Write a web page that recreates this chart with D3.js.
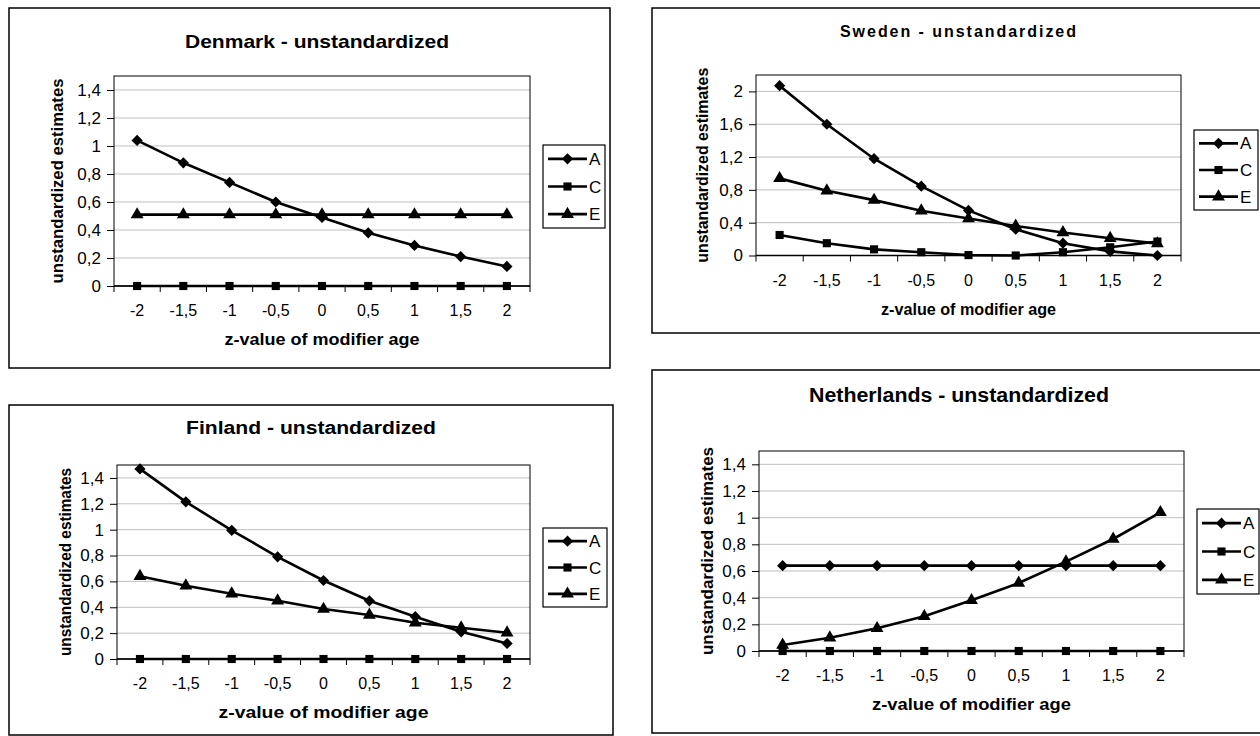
<!DOCTYPE html>
<html>
<head>
<meta charset="utf-8">
<script src="https://cdn.jsdelivr.net/npm/d3@7"></script>
<style>
  body { margin: 0; background: #fff; }
  svg { display: block; }
  text { font-family: "Liberation Sans", Arial, sans-serif; fill: #000; }
</style>
</head>
<body>
<div class="canvas"></div>
<script>
// z-values of the modifier (category axis)
const zValues = ["-2", "-1,5", "-1", "-0,5", "0", "0,5", "1", "1,5", "2"]
const seriesNames = ["A", "C", "E"]

const denmarkA = [1.04, 0.88, 0.74, 0.60, 0.49, 0.38, 0.29, 0.21, 0.14]
const denmarkC = [0, 0, 0, 0, 0, 0, 0, 0, 0]
const denmarkE = [0.51, 0.51, 0.51, 0.51, 0.51, 0.51, 0.51, 0.51, 0.51]

const swedenA = [2.07, 1.60, 1.18, 0.845, 0.55, 0.32, 0.15, 0.05, 0.0]
const swedenC = [0.25, 0.15, 0.075, 0.04, 0.005, 0.0, 0.04, 0.10, 0.17]
const swedenE = [0.94, 0.79, 0.675, 0.545, 0.45, 0.36, 0.28, 0.21, 0.145]

const finlandA = [1.47, 1.215, 0.995, 0.79, 0.607, 0.45, 0.327, 0.21, 0.12]
const finlandC = [0, 0, 0, 0, 0, 0, 0, 0, 0]
const finlandE = [0.64, 0.566, 0.505, 0.45, 0.386, 0.34, 0.28, 0.242, 0.203]

const netherlandsA = [0.64, 0.64, 0.64, 0.64, 0.64, 0.64, 0.64, 0.64, 0.64]
const netherlandsC = [0, 0, 0, 0, 0, 0, 0, 0, 0]
const netherlandsE = [0.045, 0.10, 0.17, 0.26, 0.38, 0.51, 0.67, 0.84, 1.04]

const ticksSmall = [0, 0.2, 0.4, 0.6, 0.8, 1, 1.2, 1.4]
const ticksSweden = [0, 0.4, 0.8, 1.2, 1.6, 2]

const comma = d => String(d).replace(".", ",")

const svg = d3.select(".canvas")
  .append("svg")
    .attr("width", 1260)
    .attr("height", 736)

// layout of each chart box
const panels = [
  { title: "Denmark - unstandardized", series: [denmarkA, denmarkC, denmarkE], yMax: 1.5, ticks: ticksSmall,
    box: [9, 8, 610, 368], plot: [114, 76, 530, 286],
    titleX: 317, titleY: 48, titleSize: 19, titleW: 264, titleAdjust: "spacingAndGlyphs",
    xTitleW: 195, yTitleX: 63, yTitleW: 205, legend: [543, 145, 62, 83] },
  { title: "Sweden - unstandardized", series: [swedenA, swedenC, swedenE], yMax: 2.2, ticks: ticksSweden,
    box: [652, 8, 1262, 333], plot: [756, 75, 1181, 255.5],
    titleX: 958, titleY: 37, titleSize: 16, titleW: 236, titleAdjust: "spacing",
    xTitleW: 175, yTitleX: 708, yTitleW: 195, legend: [1194, 130, 64, 80] },
  { title: "Finland - unstandardized", series: [finlandA, finlandC, finlandE], yMax: 1.5, ticks: ticksSmall,
    box: [9, 405, 613, 735], plot: [117, 465, 530, 659],
    titleX: 311, titleY: 434, titleSize: 18, titleW: 250, titleAdjust: "spacingAndGlyphs",
    xTitleW: 210, yTitleX: 71, yTitleW: 188, legend: [543, 528, 64, 79] },
  { title: "Netherlands - unstandardized", series: [netherlandsA, netherlandsC, netherlandsE], yMax: 1.5, ticks: ticksSmall,
    box: [652, 370, 1262, 733], plot: [759, 451, 1184, 651],
    titleX: 959, titleY: 402, titleSize: 20, titleW: 300, titleAdjust: "spacingAndGlyphs",
    xTitleW: 199, yTitleX: 713, yTitleW: 208, legend: [1197, 509, 62, 85] }
]

const diamond = d3.symbol().type(d3.symbolDiamond2).size(80)
const square = d3.symbol().type(d3.symbolSquare).size(66)
const triangle = d3.symbol().type(d3.symbolTriangle).size(72)
const markers = [diamond, square, triangle]

panels.forEach(p => {
  const [bx0, by0, bx1, by1] = p.box
  const [left, top, right, bottom] = p.plot

  svg.append("rect")
    .attr("x", bx0).attr("y", by0)
    .attr("width", bx1 - bx0).attr("height", by1 - by0)
    .attr("fill", "#fff").attr("stroke", "#000").attr("stroke-width", 1.5)

  svg.append("text")
    .attr("x", p.titleX).attr("y", p.titleY)
    .attr("text-anchor", "middle")
    .attr("font-size", p.titleSize).attr("font-weight", "bold")
    .attr("textLength", p.titleW).attr("lengthAdjust", p.titleAdjust)
    .text(p.title)

  const x = d3.scaleBand().domain(zValues).range([left, right])
  const y = d3.scaleLinear().domain([0, p.yMax]).range([bottom, top])

  const graph = svg.append("g")

  // grid lines
  graph.selectAll(".grid")
    .data(p.ticks.filter(t => t > 0))
    .enter().append("line")
      .attr("x1", left).attr("x2", right)
      .attr("y1", d => y(d)).attr("y2", d => y(d))
      .attr("stroke", "#c0c0c0").attr("stroke-width", 1)

  graph.append("rect")
    .attr("x", left).attr("y", top)
    .attr("width", right - left).attr("height", bottom - top)
    .attr("fill", "none").attr("stroke", "#000").attr("stroke-width", 1)

  // y axis
  const yAxis = d3.axisLeft(y).tickValues(p.ticks).tickSize(7).tickPadding(6).tickFormat(comma)
  const yAxisGroup = graph.append("g")
    .attr("transform", `translate(${left},0)`)
    .call(yAxis)
  yAxisGroup.select(".domain").remove()
  yAxisGroup.selectAll("text").attr("font-size", 17).attr("font-family", null)
  yAxisGroup.selectAll("line").attr("stroke", "#000")

  // x axis: labels at category centres, tick marks between categories
  const xAxis = d3.axisBottom(x).tickSize(0).tickPadding(19)
  const xAxisGroup = graph.append("g")
    .attr("transform", `translate(0,${bottom})`)
    .call(xAxis)
  xAxisGroup.select(".domain").remove()
  xAxisGroup.selectAll("text").attr("font-size", 16).attr("font-family", null)

  graph.selectAll(".xtick")
    .data(zValues.concat([null]))
    .enter().append("line")
      .attr("x1", (d, i) => left + i * x.bandwidth())
      .attr("x2", (d, i) => left + i * x.bandwidth())
      .attr("y1", bottom).attr("y2", bottom + 6)
      .attr("stroke", "#000")

  graph.append("line")
    .attr("x1", left).attr("x2", right)
    .attr("y1", bottom).attr("y2", bottom)
    .attr("stroke", "#000").attr("stroke-width", 1.5)

  // axis titles
  svg.append("text")
    .attr("x", (left + right) / 2).attr("y", bottom + 59)
    .attr("text-anchor", "middle")
    .attr("font-size", 16).attr("font-weight", "bold")
    .attr("textLength", p.xTitleW).attr("lengthAdjust", "spacingAndGlyphs")
    .text("z-value of modifier age")

  svg.append("text")
    .attr("transform", `translate(${p.yTitleX},${(top + bottom) / 2}) rotate(-90)`)
    .attr("text-anchor", "middle")
    .attr("font-size", 16).attr("font-weight", "bold")
    .attr("textLength", p.yTitleW).attr("lengthAdjust", "spacingAndGlyphs")
    .text("unstandardized estimates")

  // series
  const cx = d => x(d) + x.bandwidth() / 2
  const line = d3.line()
    .x((d, i) => cx(zValues[i]))
    .y(d => y(d))

  // draw C first, then E, then A
  const order = [1, 2, 0]
  order.forEach(k => {
    const values = p.series[k]
    graph.append("path")
      .datum(values)
      .attr("d", line)
      .attr("fill", "none")
      .attr("stroke", "#000")
      .attr("stroke-width", 2.6)
      .attr("stroke-linejoin", "round")

    graph.selectAll(null)
      .data(values)
      .enter().append("path")
        .attr("d", markers[k])
        .attr("transform", (d, i) => `translate(${cx(zValues[i])},${y(d)})`)
        .attr("fill", "#000")
  })

  // legend
  const [lx, ly, lw, lh] = p.legend
  const legend = svg.append("g").attr("transform", `translate(${lx},${ly})`)
  legend.append("rect")
    .attr("width", lw).attr("height", lh)
    .attr("fill", "#fff").attr("stroke", "#000").attr("stroke-width", 1.2)

  const rowH = lh / 3
  seriesNames.forEach((name, k) => {
    const ry = rowH * (k + 0.5)
    legend.append("line")
      .attr("x1", 5).attr("x2", 44)
      .attr("y1", ry).attr("y2", ry)
      .attr("stroke", "#000").attr("stroke-width", 2.6)
    legend.append("path")
      .attr("d", markers[k])
      .attr("transform", `translate(24.5,${ry})`)
      .attr("fill", "#000")
    legend.append("text")
      .attr("x", 46).attr("y", ry + 6)
      .attr("font-size", 17)
      .text(name)
  })
})
</script>
</body>
</html>
